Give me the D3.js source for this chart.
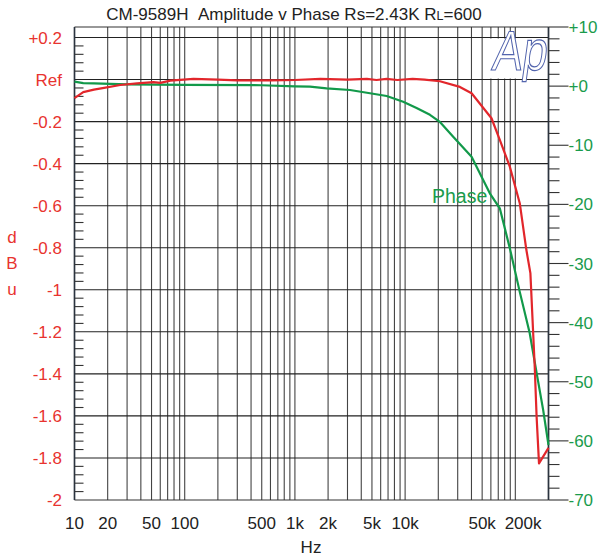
<!DOCTYPE html>
<html><head><meta charset="utf-8">
<script src="https://cdn.jsdelivr.net/npm/d3@7"></script>
<style>
html,body{margin:0;padding:0;background:#fff;}
svg{display:block;font-family:"Liberation Sans",Arial,Helvetica,sans-serif;}
</style></head>
<body>
<svg id="chart" width="605" height="560"></svg>
<script>
// ---- data ----
const freqAmp = [10,12,15,18,26,37,52,60,74,120,200,300,600,1000,1700,3000,4500,5500,6800,8500,11700,15000,20700,31400,40100,60800,72300,89100,109700,126000,137000,150000,156000,164000,200000];
const ampDb   = [-0.088,-0.060,-0.048,-0.041,-0.026,-0.018,-0.012,-0.016,-0.005,0.003,0.0,-0.004,-0.004,-0.002,0.003,0.0,0.003,-0.002,0.003,-0.002,0.003,0.0,-0.008,-0.035,-0.065,-0.184,-0.287,-0.414,-0.588,-0.811,-0.921,-1.366,-1.604,-1.826,-1.752];
const freqPhase = [10,12,15,30,100,500,1000,1370,1940,3160,4800,6800,9600,12700,16800,20500,27300,40100,58700,72300,89100,109700,135000,156000,179000,200000];
const phaseDeg  = [0.75,0.5,0.45,0.3,0.2,0.15,-0.05,-0.1,-0.37,-0.66,-1.21,-1.67,-2.63,-3.7,-4.85,-6.0,-8.55,-11.93,-18.13,-20.66,-27.4,-34.8,-41.75,-48.5,-54.8,-60.7];
const xTickVals   = [10,20,50,100,500,1000,2000,5000,10000,50000,200000];
const xTickLabels = ["10","20","50","100","500","1k","2k","5k","10k","50k","200k"];
const leftTickVals   = [0.2,0,-0.2,-0.4,-0.6,-0.8,-1,-1.2,-1.4,-1.6,-1.8,-2];
const leftTickLabels = ["+0.2","Ref","-0.2","-0.4","-0.6","-0.8","-1","-1.2","-1.4","-1.6","-1.8","-2"];
const rightTickVals   = [10,0,-10,-20,-30,-40,-50,-60,-70];
const rightTickLabels = ["+10","+0","-10","-20","-30","-40","-50","-60","-70"];

// ---- layout ----
const L = 74.5, R = 548.5, T = 27, B = 500;
const RED = "#e2262b", GREEN = "#12994a", LRED = "#e8332f", LGREEN = "#1a9b4c";
const svg = d3.select("#chart");
const x  = d3.scaleLog().domain([10, 200000]).range([L, R]);
const yL = d3.scaleLinear().domain([-2, 0.25]).range([B, T]);
const yR = d3.scaleLinear().domain([-70, 10]).range([B, T]);

// vertical gridlines
const vgrid = [];
for (let d = 10; d <= 100000; d *= 10) for (let m = 1; m <= 9; m++) { const f = d*m; if (f <= 200000) vgrid.push(f); }
vgrid.push(200000);
svg.append("g").selectAll("line").data(vgrid).join("line")
  .attr("x1", d => x(d)).attr("x2", d => x(d)).attr("y1", T).attr("y2", B)
  .attr("stroke", "#444").attr("stroke-width", 1.1);

// horizontal gridlines (dB)
const hgrid = d3.range(-1.8, 0.21, 0.2);
svg.append("g").selectAll("line").data(hgrid).join("line")
  .attr("x1", L).attr("x2", R).attr("y1", d => yL(d)).attr("y2", d => yL(d))
  .attr("stroke", "#222").attr("stroke-width", 1.1);

// logo background box
svg.append("rect").attr("x", x(52000)).attr("y", yL(0.2)+1).attr("width", R - x(52000) - 1).attr("height", yL(0) - yL(0.2) - 2).attr("fill", "#fff");

// frame
svg.append("line").attr("x1", L).attr("x2", R).attr("y1", T).attr("y2", T).attr("stroke", "#333").attr("stroke-width", 1.2);
svg.append("line").attr("x1", L).attr("x2", R).attr("y1", B).attr("y2", B).attr("stroke", "#333").attr("stroke-width", 1.2);
svg.append("line").attr("x1", L).attr("x2", L).attr("y1", T).attr("y2", B).attr("stroke", "#2b3440").attr("stroke-width", 1.6);
svg.append("line").attr("x1", R).attr("x2", R).attr("y1", T).attr("y2", B).attr("stroke", "#2b3440").attr("stroke-width", 1.6);

// left minor ticks
const lminor = d3.range(-1.96, 0.2, 0.04).filter(v => Math.abs(Math.round(v/0.2)*0.2 - v) > 0.005);
svg.append("g").selectAll("line").data(lminor).join("line")
  .attr("x1", L).attr("x2", L+9).attr("y1", d => yL(d)).attr("y2", d => yL(d))
  .attr("stroke", "#333").attr("stroke-width", 1.1);

// right ticks
const rminor = d3.range(-68, 10, 2).filter(v => v % 10 !== 0);
svg.append("g").selectAll("line").data(rminor).join("line")
  .attr("x1", R).attr("x2", R+11).attr("y1", d => yR(d)).attr("y2", d => yR(d))
  .attr("stroke", "#333").attr("stroke-width", 1.1);
svg.append("g").selectAll("line").data(rightTickVals).join("line")
  .attr("x1", R).attr("x2", R+20).attr("y1", d => yR(d)).attr("y2", d => yR(d))
  .attr("stroke", "#333").attr("stroke-width", 1.1);

// curves
const lineAmp = d3.line().x((d,i) => x(freqAmp[i])).y(d => yL(d));
const linePh  = d3.line().x((d,i) => x(freqPhase[i])).y(d => yR(d));
svg.append("path").attr("d", linePh(phaseDeg)).attr("fill","none").attr("stroke", GREEN).attr("stroke-width", 2.2).attr("stroke-linejoin","round");
svg.append("path").attr("d", lineAmp(ampDb)).attr("fill","none").attr("stroke", RED).attr("stroke-width", 2.2).attr("stroke-linejoin","round");

// left labels
svg.append("g").selectAll("text").data(leftTickVals).join("text")
  .attr("x", 62).attr("y", d => yL(d)).attr("dy", "0.36em").attr("text-anchor", "end")
  .attr("font-size", 17).attr("fill", LRED).text((d,i) => leftTickLabels[i]);
// right labels
svg.append("g").selectAll("text").data(rightTickVals).join("text")
  .attr("x", R+20).attr("y", d => yR(d)).attr("dy", "0.36em").attr("text-anchor", "start")
  .attr("font-size", 17).attr("fill", LGREEN).text((d,i) => rightTickLabels[i]);
// bottom labels
svg.append("g").selectAll("text").data(xTickVals).join("text")
  .attr("x", d => d === 200000 ? x(d) - 7 : x(d)).attr("y", 529)
  .attr("text-anchor", d => d === 200000 ? "end" : "middle")
  .attr("font-size", 17).attr("fill", "#222").text((d,i) => xTickLabels[i]);

// axis titles
svg.append("text").attr("x", 311).attr("y", 553).attr("text-anchor","middle").attr("font-size",17).attr("fill","#222").text("Hz");
["d","B","u"].forEach((c,i) => svg.append("text").attr("x", 12).attr("y", 243 + i*26).attr("text-anchor","middle").attr("font-size",17).attr("fill",LRED).text(c));

// title
const title = svg.append("text").attr("x", 294).attr("y", 20).attr("text-anchor","middle").attr("font-size",17).attr("fill","#222");
title.append("tspan").text("CM-9589H\u00a0\u00a0Amplitude v Phase Rs=2.43K R");
title.append("tspan").attr("font-size", 12.5).text("L");
title.append("tspan").text("=600");

// phase label
svg.append("text").attr("x", 432).attr("y", 203).attr("font-size", 19.5).attr("fill", LGREEN).text("Phase");

// Ap logo
svg.append("text").attr("transform", "translate(491,70) skewX(-8) scale(0.8,1)")
  .attr("font-size", 56).attr("fill","#fff")
  .attr("stroke", "#5264ad").attr("stroke-width", 1.2).text("Ap");
</script>
</body></html>
